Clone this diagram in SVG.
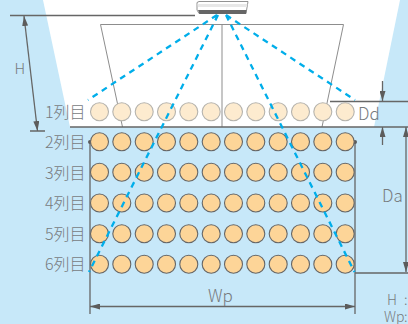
<svg xmlns="http://www.w3.org/2000/svg" xmlns:xlink="http://www.w3.org/1999/xlink" width="408" height="324" viewBox="0 0 408 324">
<style>
text{font-family:"Noto Sans CJK JP","Noto Sans",sans-serif;font-size:16px;fill:#777b7e;font-weight:300}
.d{fill:none;stroke:#666;stroke-width:1.300}
.t{fill:none;stroke:#8d8d8d;stroke-width:1}
.g{fill:none;stroke:#00aeea;stroke-width:2.300;stroke-dasharray:6 5}
.a{fill:#fdd598;stroke:#666;stroke-width:1.100}
.p{fill:#fdebcf;stroke:#b5b3ad;stroke-width:1.100}
</style>
<defs>
<marker id="ah" viewBox="0 0 10 6" refX="10" refY="3" markerWidth="10" markerHeight="6" orient="auto-start-reverse" markerUnits="userSpaceOnUse"><path d="M0 0L10 3L0 6Z" fill="#5c5c5c"/></marker>
<circle id="c" r="9"/>
</defs>
<rect width="408" height="324" fill="#c7e8f9"/>
<path d="M43 0H400L374 127H70Z" fill="#fff"/>
<g id="connectors">
<path class="t" d="M100.500 24.500H343.500L322 127M100.500 24.500L122.500 127M222 24.500V127"/>
<path class="d" d="M10 15.500H195M30 131H45M70 127H408M330 101.500H408M355 273H408"/>
<path class="d" d="M24 16L37.500 131" marker-start="url(#ah)" marker-end="url(#ah)"/>
<path class="d" d="M382.500 81V101" marker-end="url(#ah)"/>
<path class="d" d="M382.500 145V127" marker-end="url(#ah)"/>
<path class="d" d="M406 127V272" marker-start="url(#ah)" marker-end="url(#ah)"/>
<path class="d" d="M90 142V314M355 142V314"/>
<circle cx="90" cy="142" r="2" fill="#5c5c5c"/>
<circle cx="355" cy="142" r="2" fill="#5c5c5c"/>
<path class="d" d="M90 306.500H355" marker-start="url(#ah)" marker-end="url(#ah)"/>
</g>
<g id="row1" class="p">
<use xlink:href="#c" x="99.500" y="111.700"/><use xlink:href="#c" x="121.800" y="111.700"/><use xlink:href="#c" x="144.200" y="111.700"/><use xlink:href="#c" x="166.500" y="111.700"/><use xlink:href="#c" x="188.800" y="111.700"/><use xlink:href="#c" x="211.200" y="111.700"/><use xlink:href="#c" x="233.500" y="111.700"/><use xlink:href="#c" x="255.800" y="111.700"/><use xlink:href="#c" x="278.200" y="111.700"/><use xlink:href="#c" x="300.500" y="111.700"/><use xlink:href="#c" x="322.800" y="111.700"/><use xlink:href="#c" x="345.200" y="111.700"/>
</g>
<g id="row2" class="a">
<use xlink:href="#c" x="99.500" y="141.700"/><use xlink:href="#c" x="121.800" y="141.700"/><use xlink:href="#c" x="144.200" y="141.700"/><use xlink:href="#c" x="166.500" y="141.700"/><use xlink:href="#c" x="188.800" y="141.700"/><use xlink:href="#c" x="211.200" y="141.700"/><use xlink:href="#c" x="233.500" y="141.700"/><use xlink:href="#c" x="255.800" y="141.700"/><use xlink:href="#c" x="278.200" y="141.700"/><use xlink:href="#c" x="300.500" y="141.700"/><use xlink:href="#c" x="322.800" y="141.700"/><use xlink:href="#c" x="345.200" y="141.700"/>
</g>
<g id="row3" class="a">
<use xlink:href="#c" x="99.500" y="172.300"/><use xlink:href="#c" x="121.800" y="172.300"/><use xlink:href="#c" x="144.200" y="172.300"/><use xlink:href="#c" x="166.500" y="172.300"/><use xlink:href="#c" x="188.800" y="172.300"/><use xlink:href="#c" x="211.200" y="172.300"/><use xlink:href="#c" x="233.500" y="172.300"/><use xlink:href="#c" x="255.800" y="172.300"/><use xlink:href="#c" x="278.200" y="172.300"/><use xlink:href="#c" x="300.500" y="172.300"/><use xlink:href="#c" x="322.800" y="172.300"/><use xlink:href="#c" x="345.200" y="172.300"/>
</g>
<g id="row4" class="a">
<use xlink:href="#c" x="99.500" y="203"/><use xlink:href="#c" x="121.800" y="203"/><use xlink:href="#c" x="144.200" y="203"/><use xlink:href="#c" x="166.500" y="203"/><use xlink:href="#c" x="188.800" y="203"/><use xlink:href="#c" x="211.200" y="203"/><use xlink:href="#c" x="233.500" y="203"/><use xlink:href="#c" x="255.800" y="203"/><use xlink:href="#c" x="278.200" y="203"/><use xlink:href="#c" x="300.500" y="203"/><use xlink:href="#c" x="322.800" y="203"/><use xlink:href="#c" x="345.200" y="203"/>
</g>
<g id="row5" class="a">
<use xlink:href="#c" x="99.500" y="233.700"/><use xlink:href="#c" x="121.800" y="233.700"/><use xlink:href="#c" x="144.200" y="233.700"/><use xlink:href="#c" x="166.500" y="233.700"/><use xlink:href="#c" x="188.800" y="233.700"/><use xlink:href="#c" x="211.200" y="233.700"/><use xlink:href="#c" x="233.500" y="233.700"/><use xlink:href="#c" x="255.800" y="233.700"/><use xlink:href="#c" x="278.200" y="233.700"/><use xlink:href="#c" x="300.500" y="233.700"/><use xlink:href="#c" x="322.800" y="233.700"/><use xlink:href="#c" x="345.200" y="233.700"/>
</g>
<g id="row6" class="a">
<use xlink:href="#c" x="99.500" y="264.300"/><use xlink:href="#c" x="121.800" y="264.300"/><use xlink:href="#c" x="144.200" y="264.300"/><use xlink:href="#c" x="166.500" y="264.300"/><use xlink:href="#c" x="188.800" y="264.300"/><use xlink:href="#c" x="211.200" y="264.300"/><use xlink:href="#c" x="233.500" y="264.300"/><use xlink:href="#c" x="255.800" y="264.300"/><use xlink:href="#c" x="278.200" y="264.300"/><use xlink:href="#c" x="300.500" y="264.300"/><use xlink:href="#c" x="322.800" y="264.300"/><use xlink:href="#c" x="345.200" y="264.300"/>
</g>
<g id="beams">
<path class="g" d="M217 15L88 100M218 15L89 272M226 15L354.500 272M226 15L355 100"/>
</g>
<g id="device">
<path d="M197 2.500L199 1.500H248L246 13.500H199L197 10Z" fill="#fff" stroke="#777" stroke-width=".8"/>
<path d="M197.500 4H247.500L246.800 7H198Z" fill="#e8e8e8"/>
<path d="M198 10H246.500L246 14H199.500Z" fill="#666"/>
</g>
<g id="labels">
<text x="14.500" y="74" style="font-size:15px">H</text>
<text x="45" y="118">1列目</text>
<text x="45" y="148">2列目</text>
<text x="45" y="179">3列目</text>
<text x="45" y="209">4列目</text>
<text x="45" y="240">5列目</text>
<text x="45" y="270">6列目</text>
<text x="358" y="120" style="font-size:17px">Dd</text>
<text x="382" y="202" style="font-size:17px">Da</text>
<text x="208" y="302" style="font-size:17px">Wp</text>
<text x="387" y="305" style="font-size:14px">H<tspan x="404">:</tspan></text>
<text x="384" y="321.500" style="font-size:14px">Wp<tspan x="404">:</tspan></text>
</g>
</svg>
